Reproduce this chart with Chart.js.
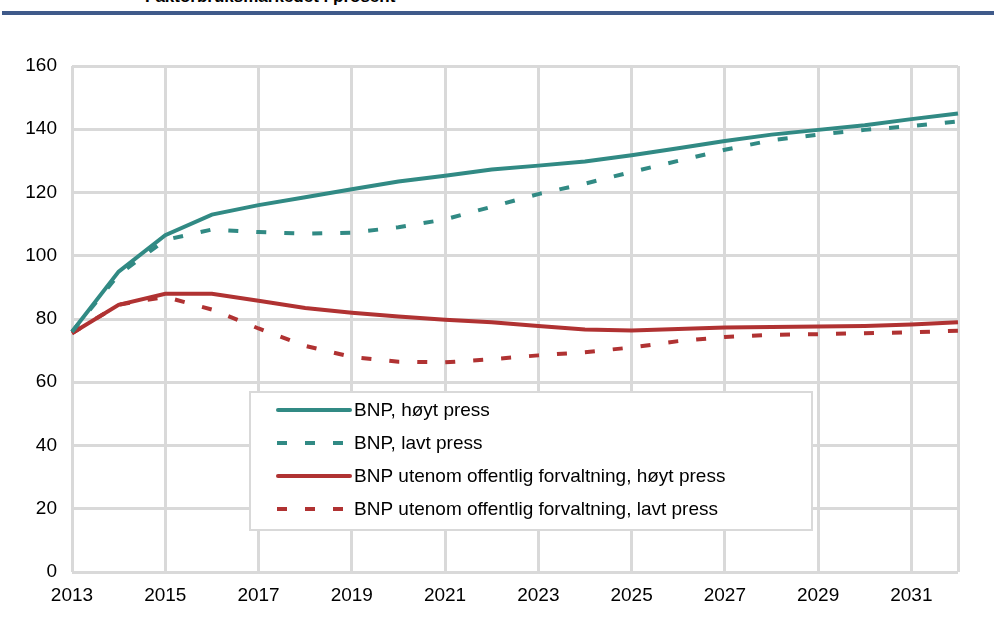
<!DOCTYPE html>
<html>
<head>
<meta charset="utf-8">
<script src="https://cdn.jsdelivr.net/npm/chart.js@4"></script>
<style>
  body { margin: 0; background: #fff; font-family: "Liberation Sans", Arial, sans-serif; }
  #wrap { position: relative; width: 994px; height: 621px; overflow: hidden; }
  #title { position: absolute; left: 145px; top: -13px; font-weight: bold; font-size: 17px; color: #000; }
  #rule { position: absolute; left: 2px; right: 0; top: 11px; height: 4px; background: #3f5a8a; }
  canvas { position: absolute; left: 0; top: 0; }
</style>
</head>
<body>
<div id="wrap">
  <div id="title">Faktorbruksmarkedet i prosent</div>
  <div id="rule"></div>
  <canvas id="chart" width="994" height="621"></canvas>
</div>
<script>
const years = ['2013','2014','2015','2016','2017','2018','2019','2020','2021','2022',
  '2023','2024','2025','2026','2027','2028','2029','2030','2031','2032'];

const bnpHigh = [76, 95, 106.5, 113, 116, 118.5, 121, 123.5, 125.3, 127.3,
  128.5, 129.8, 131.8, 134, 136.3, 138.3, 139.8, 141.3, 143.2, 145];
const bnpLow = [76, 94, 105, 108.3, 107.5, 107, 107.3, 109, 111.5, 115.5,
  119.5, 122.8, 126.5, 130, 133.5, 136.5, 138.3, 139.8, 141, 142.5];
const privHigh = [75.5, 84.5, 88, 88, 85.8, 83.5, 82, 80.8, 79.8, 79,
  77.8, 76.7, 76.4, 76.8, 77.3, 77.5, 77.6, 77.8, 78.3, 79];
const privLow = [75.5, 84.5, 87, 83, 77, 71.5, 68, 66.5, 66.3, 67.3,
  68.5, 69.5, 71, 73, 74.3, 75, 75.2, 75.5, 75.8, 76.3];

const seriesNames = [
  'BNP, høyt press',
  'BNP, lavt press',
  'BNP utenom offentlig forvaltning, høyt press',
  'BNP utenom offentlig forvaltning, lavt press'
];

const teal = '#318a84';
const red = '#b03232';
const gridColor = '#d9d9d9';
const font = { family: '"Liberation Sans", Arial, sans-serif', size: 19 };

// legend drawn inside the plot area, like the original
const boxLegend = {
  id: 'boxLegend',
  afterDatasetsDraw(chart) {
    const ctx = chart.ctx;
    const x = 250, y = 392, w = 562, h = 138;
    ctx.save();
    ctx.fillStyle = '#fff';
    ctx.fillRect(x, y, w, h);
    ctx.strokeStyle = '#d9d9d9';
    ctx.lineWidth = 2;
    ctx.strokeRect(x, y, w, h);
    ctx.font = '19px ' + font.family;
    ctx.textBaseline = 'middle';
    chart.data.datasets.forEach((ds, i) => {
      const ly = y + 18 + i * 33;
      ctx.strokeStyle = ds.borderColor;
      ctx.lineWidth = 4;
      ctx.setLineDash(ds.borderDash || []);
      ctx.lineCap = ds.borderDash ? 'butt' : 'round';
      ctx.beginPath();
      ctx.moveTo(ds.borderDash ? 277 : 278, ly);
      ctx.lineTo(350, ly);
      ctx.stroke();
      ctx.setLineDash([]);
      ctx.fillStyle = '#000';
      ctx.fillText(ds.label, 354, ly + 1);
    });
    ctx.restore();
  }
};

new Chart(document.getElementById('chart'), {
  type: 'line',
  data: {
    labels: years,
    datasets: [
      { label: seriesNames[0], data: bnpHigh, borderColor: teal, borderWidth: 4 },
      { label: seriesNames[1], data: bnpLow, borderColor: teal, borderWidth: 4, borderDash: [10, 18] },
      { label: seriesNames[2], data: privHigh, borderColor: red, borderWidth: 4 },
      { label: seriesNames[3], data: privLow, borderColor: red, borderWidth: 4, borderDash: [10, 18] }
    ]
  },
  options: {
    responsive: false,
    animation: false,
    layout: { padding: { left: 0, right: 36, top: 66, bottom: 0 } },
    elements: { point: { radius: 0 }, line: { tension: 0 } },
    plugins: { legend: { display: false }, tooltip: { enabled: false } },
    scales: {
      x: {
        offset: false,
        grid: {
          drawTicks: false,
          lineWidth: 3,
          color: c => (c.index % 2 === 0 || c.index === years.length - 1) ? gridColor : 'rgba(0,0,0,0)'
        },
        border: { display: false },
        ticks: {
          autoSkip: false,
          maxRotation: 0,
          padding: 12,
          color: '#000',
          font: font,
          callback: (v, i) => i % 2 === 0 ? years[i] : ''
        },
        afterFit: s => { s.height = 49; }
      },
      y: {
        min: 0,
        max: 160,
        ticks: { stepSize: 20, color: '#000', font: font, padding: 15 },
        grid: { drawTicks: false, lineWidth: 3, color: gridColor },
        border: { display: false },
        afterFit: s => { s.width = 72; }
      }
    }
  },
  plugins: [boxLegend]
});
</script>
</body>
</html>
